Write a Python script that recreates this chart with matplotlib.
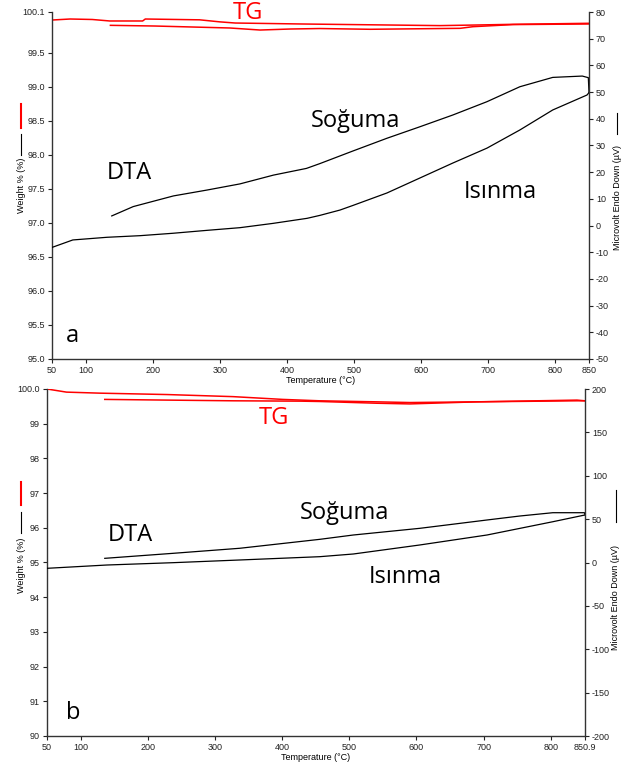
import matplotlib
matplotlib.use('Agg')
import matplotlib.pyplot as plt
from matplotlib.lines import Line2D

plt.rcParams['font.family'] = ['Liberation Sans', 'DejaVu Sans']

# ---------------- panel a data ----------------
a_heat_T = [50, 81, 132, 181, 230, 281, 330, 379, 430, 449, 479, 498, 549, 598, 647, 698, 747, 796, 847, 850]
a_heat_dta = [-8.2, -5.4, -4.4, -3.8, -2.9, -1.8, -0.8, 0.8, 2.7, 3.8, 5.8, 7.5, 12.2, 17.8, 23.4, 29.0, 35.8, 43.3, 48.9, 49.8]
a_cool_T = [850, 849, 840, 796, 747, 698, 647, 598, 549, 498, 449, 429, 380, 330, 281, 231, 171, 139]
a_cool_dta = [49.8, 55.4, 56.0, 55.5, 52.0, 46.4, 41.4, 37.0, 32.7, 27.9, 23.2, 21.4, 18.9, 15.6, 13.3, 11.1, 7.1, 3.6]

a_tg_heat_T = [50, 77, 110, 136, 185, 189, 270, 300, 323, 420, 628, 683, 737, 850]
a_tg_heat = [99.982, 99.997, 99.990, 99.968, 99.968, 99.997, 99.985, 99.955, 99.938, 99.924, 99.900, 99.909, 99.919, 99.934]
a_tg_cool_T = [850, 737, 677, 658, 524, 449, 405, 360, 315, 203, 137]
a_tg_cool = [99.924, 99.915, 99.884, 99.860, 99.846, 99.857, 99.850, 99.835, 99.865, 99.894, 99.904]

# ---------------- panel b data ----------------
b_heat_T = [50, 139, 238, 337, 456, 506, 605, 705, 803, 851]
b_heat_dta = [-6.7, -2.9, -0.2, 2.9, 6.7, 9.8, 20.2, 31.7, 47.0, 54.8]
b_cool_T = [851, 850, 803, 754, 705, 605, 506, 456, 337, 238, 136]
b_cool_dta = [54.8, 57.4, 57.4, 53.6, 49.0, 39.4, 31.7, 26.7, 16.4, 10.6, 4.8]

b_tg_heat_T = [50, 79, 129, 229, 327, 401, 456, 541, 590, 690, 839, 851]
b_tg_heat = [100.0, 99.91, 99.88, 99.84, 99.78, 99.70, 99.66, 99.63, 99.61, 99.63, 99.68, 99.66]
b_tg_cool_T = [851, 839, 690, 640, 590, 541, 456, 427, 327, 229, 136]
b_tg_cool = [99.66, 99.66, 99.63, 99.60, 99.57, 99.59, 99.64, 99.65, 99.66, 99.68, 99.70]

a_xticks = [50, 100, 200, 300, 400, 500, 600, 700, 800, 850]
a_xlabels = ['50', '100', '200', '300', '400', '500', '600', '700', '800', '850']
a_lticks = [95.0, 95.5, 96.0, 96.5, 97.0, 97.5, 98.0, 98.5, 99.0, 99.5, 100.1]
a_llabels = ['95.0', '95.5', '96.0', '96.5', '97.0', '97.5', '98.0', '98.5', '99.0', '99.5', '100.1']
a_rticks = list(range(-50, 81, 10))

b_xticks = [50, 100, 200, 300, 400, 500, 600, 700, 800, 850.9]
b_xlabels = ['50', '100', '200', '300', '400', '500', '600', '700', '800', '850.9']
b_lticks = list(range(90, 101))
b_llabels = [str(v) for v in range(90, 100)] + ['100.0']
b_rticks = list(range(-200, 201, 50))

W, H = 631, 765
fig = plt.figure(figsize=(W / 100, H / 100), dpi=100)

ann_font = dict(family=['Open Sans', 'DejaVu Sans'], fontsize=17)


def setup(ax, ax2, xmax, xticks, xlabels, lt, ll, rt):
    ax.set_xlim(50, xmax)
    ax.set_xticks(xticks)
    ax.set_xticklabels(xlabels)
    ax.set_yticks(lt)
    ax.set_yticklabels(ll)
    ax2.set_yticks(rt)
    ax2.set_yticklabels([str(v) for v in rt])
    for a_ in (ax, ax2):
        a_.spines['top'].set_visible(False)
        a_.tick_params(labelsize=6.5, length=3, width=0.8, colors='#222222', pad=2)
        for s in a_.spines.values():
            s.set_linewidth(1.0)
            s.set_color('#333333')
    ax.spines['right'].set_visible(False)
    ax2.spines['left'].set_visible(False)
    ax2.spines['bottom'].set_visible(False)


# ---------------- panel a ----------------
ax = fig.add_axes([52 / W, 1 - 359 / H, 537 / W, 347 / H])
ax2 = ax.twinx()
ax.set_ylim(95.0, 100.1)
ax2.set_ylim(-50, 80)
setup(ax, ax2, 850, a_xticks, a_xlabels, a_lticks, a_llabels, a_rticks)
ax.plot(a_tg_heat_T, a_tg_heat, color='#ff0000', lw=1.1)
ax.plot(a_tg_cool_T, a_tg_cool, color='#ff0000', lw=1.1)
ax2.plot(a_heat_T, a_heat_dta, color='black', lw=0.9)
ax2.plot(a_cool_T, a_cool_dta, color='black', lw=0.9)
ax.set_xlabel('Temperature (°C)', fontsize=6.5, labelpad=1)

fig.text(248 / W, 1 - 13 / H, 'TG', color='#ff0000', ha='center', va='center', **ann_font)
fig.text(355 / W, 1 - 121 / H, 'Soğuma', color='black', ha='center', va='center', **ann_font)
fig.text(129 / W, 1 - 173 / H, 'DTA', color='black', ha='center', va='center', **ann_font)
fig.text(500 / W, 1 - 192 / H, 'Isınma', color='black', ha='center', va='center', **ann_font)
fig.text(72 / W, 1 - 336 / H, 'a', color='black', ha='center', va='center', **ann_font)

# ---------------- panel b ----------------
bx = fig.add_axes([47 / W, 1 - 736 / H, 538 / W, 347 / H])
bx2 = bx.twinx()
bx.set_ylim(90, 100)
bx2.set_ylim(-200, 200)
setup(bx, bx2, 850.9, b_xticks, b_xlabels, b_lticks, b_llabels, b_rticks)
bx.plot(b_tg_heat_T, b_tg_heat, color='#ff0000', lw=1.1)
bx.plot(b_tg_cool_T, b_tg_cool, color='#ff0000', lw=1.1)
bx2.plot(b_heat_T, b_heat_dta, color='black', lw=0.9)
bx2.plot(b_cool_T, b_cool_dta, color='black', lw=0.9)
bx.set_xlabel('Temperature (°C)', fontsize=6.5, labelpad=1)

fig.text(274 / W, 1 - 418 / H, 'TG', color='#ff0000', ha='center', va='center', **ann_font)
fig.text(344 / W, 1 - 513 / H, 'Soğuma', color='black', ha='center', va='center', **ann_font)
fig.text(130 / W, 1 - 535 / H, 'DTA', color='black', ha='center', va='center', **ann_font)
fig.text(405 / W, 1 - 577 / H, 'Isınma', color='black', ha='center', va='center', **ann_font)
fig.text(73 / W, 1 - 713 / H, 'b', color='black', ha='center', va='center', **ann_font)

# ---------------- side labels with little legend marks ----------------
def vline(x, y0, y1, color, lw):
    fig.add_artist(Line2D([x / W, x / W], [1 - y0 / H, 1 - y1 / H], color=color, lw=lw,
                          transform=fig.transFigure))

fig.text(21 / W, 1 - 185 / H, 'Weight % (%)', rotation=90, fontsize=6.5, ha='center', va='center')
vline(21, 104, 128, '#ff0000', 1.5)
vline(21, 134, 155, 'black', 0.8)
fig.text(618 / W, 1 - 198 / H, 'Microvolt Endo Down (µV)', rotation=90, fontsize=6.5, ha='center', va='center')
vline(617, 113, 134, 'black', 0.8)

fig.text(21 / W, 1 - 565 / H, 'Weight % (%)', rotation=90, fontsize=6.5, ha='center', va='center')
vline(21, 482, 505, '#ff0000', 1.5)
vline(21, 512, 533, 'black', 0.8)
fig.text(616 / W, 1 - 597 / H, 'Microvolt Endo Down (µV)', rotation=90, fontsize=6.5, ha='center', va='center')
vline(616, 490, 522, 'black', 0.8)

fig.savefig('out.png', dpi=100)
